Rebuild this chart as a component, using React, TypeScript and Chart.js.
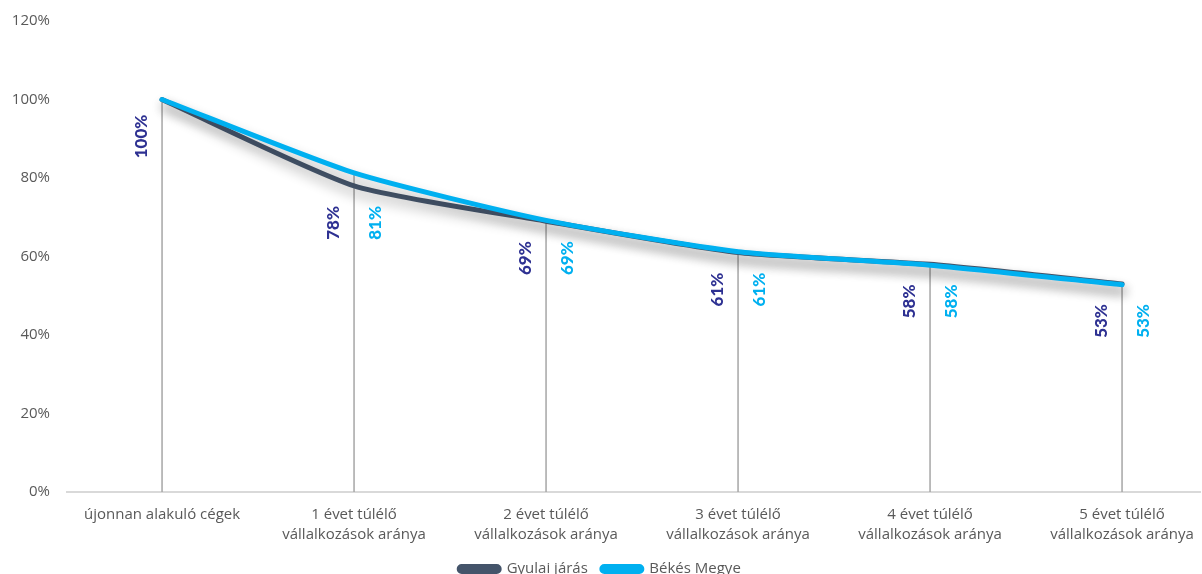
import React, { useEffect, useRef } from "react";
import { Chart, registerables } from "chart.js";

Chart.register(...registerables);

const categories: string[][] = [
  ["újonnan alakuló cégek"],
  ["1 évet túlélő", "vállalkozások aránya"],
  ["2 évet túlélő", "vállalkozások aránya"],
  ["3 évet túlélő", "vállalkozások aránya"],
  ["4 évet túlélő", "vállalkozások aránya"],
  ["5 évet túlélő", "vállalkozások aránya"],
];
const gyulai: number[] = [1.0, 0.78, 0.69, 0.61, 0.58, 0.53];
const bekes: number[] = [1.0, 0.813, 0.692, 0.612, 0.578, 0.528];
const seriesNames: string[] = ["Gyulai járás", "Békés Megye"];
const yTicks: number[] = [0, 0.2, 0.4, 0.6, 0.8, 1.0, 1.2];

const GYULAI_COLOR = "#44546A";
const BEKES_COLOR = "#00B0F0";
const GYULAI_LABEL = "#2E3192";
const AXIS_TEXT = "#595959";

const overlay = {
  id: "overlay",
  beforeDatasetsDraw(chart: any) {
    const { ctx, scales } = chart;
    const x = scales.x;
    const y = scales.y;
    ctx.save();
    ctx.strokeStyle = "#A6A6A6";
    ctx.lineWidth = 1.5;
    categories.forEach((_, i) => {
      const top = Math.max(gyulai[i], bekes[i]);
      const px = x.getPixelForValue(i);
      ctx.beginPath();
      ctx.moveTo(px, y.getPixelForValue(top));
      ctx.lineTo(px, y.getPixelForValue(0));
      ctx.stroke();
    });
    ctx.restore();
    ctx.save();
    ctx.shadowColor = "rgba(0,0,0,0.3)";
    ctx.shadowBlur = 12;
    ctx.shadowOffsetX = 2;
    ctx.shadowOffsetY = 7;
  },
  afterDatasetsDraw(chart: any) {
    const { ctx, scales } = chart;
    ctx.restore();
    const x = scales.x;
    const y = scales.y;
    ctx.save();
    ctx.font = '900 17px "Lato"';
    ctx.textAlign = "center";
    ctx.textBaseline = "middle";
    categories.forEach((_, i) => {
      const px = x.getPixelForValue(i);
      const py = y.getPixelForValue(gyulai[i]) + 37;
      const draw = (text: string, cx: number, color: string) => {
        ctx.save();
        ctx.translate(cx, py);
        ctx.rotate(-Math.PI / 2);
        ctx.fillStyle = color;
        ctx.fillText(text, 0, 0);
        ctx.restore();
      };
      draw(Math.round(gyulai[i] * 100) + "%", px - 21, GYULAI_LABEL);
      if (i > 0) draw(Math.round(bekes[i] * 100) + "%", px + 21, BEKES_COLOR);
    });
    ctx.restore();
  },
};

export default function App() {
  const ref = useRef<HTMLCanvasElement | null>(null);
  useEffect(() => {
    document.body.style.margin = "0";
    if (!ref.current) return;
    const chart = new Chart(ref.current, {
      type: "line",
      data: {
        datasets: [
          {
            label: seriesNames[0],
            data: gyulai.map((v, i) => ({ x: i, y: v })),
            borderColor: GYULAI_COLOR,
            backgroundColor: GYULAI_COLOR,
            borderWidth: 5,
            pointRadius: 0,
            tension: 0.2,
            borderCapStyle: "round",
            borderJoinStyle: "round",
            order: 2,
          },
          {
            label: seriesNames[1],
            data: bekes.map((v, i) => ({ x: i, y: v })),
            borderColor: BEKES_COLOR,
            backgroundColor: BEKES_COLOR,
            borderWidth: 5,
            pointRadius: 0,
            tension: 0.2,
            borderCapStyle: "round",
            borderJoinStyle: "round",
            order: 1,
          },
        ],
      },
      options: {
        responsive: false,
        animation: false,
        layout: { padding: { top: 21, right: 2, left: 0, bottom: -12.5 } },
        plugins: {
          tooltip: { enabled: false },
          legend: {
            position: "bottom",
            labels: {
              boxWidth: 40,
              boxHeight: 5,
              useBorderRadius: true,
              borderRadius: 2.5,
              color: AXIS_TEXT,
              font: { family: '"Open Sans"', size: 15 },
              padding: 14,
              sort: (a: any, b: any) => a.datasetIndex - b.datasetIndex,
            },
          },
        },
        scales: {
          x: {
            type: "linear",
            min: -0.495,
            max: 5.406,
            grid: { display: false, drawTicks: false },
            border: { display: true, color: "#D9D9D9", width: 2 },
            afterBuildTicks: (axis: any) => {
              axis.ticks = categories.map((_, i) => ({ value: i }));
            },
            afterFit: (axis: any) => {
              axis.height = 55.5;
              axis.paddingLeft = 0;
              axis.paddingRight = 0;
            },
            ticks: {
              autoSkip: false,
              maxRotation: 0,
              minRotation: 0,
              padding: 13,
              color: AXIS_TEXT,
              font: { family: '"Open Sans"', size: 15, lineHeight: 1.3 },
              callback: (v: any) => categories[v] ?? "",
            },
          },
          y: {
            min: 0,
            max: 1.2,
            grid: { display: false, drawTicks: false },
            border: { display: false },
            afterBuildTicks: (axis: any) => {
              axis.ticks = yTicks.map((v) => ({ value: v }));
            },
            afterFit: (axis: any) => {
              axis.width = 67;
              axis.paddingTop = 0;
              axis.paddingBottom = 0;
            },
            ticks: {
              padding: 17,
              color: AXIS_TEXT,
              font: { family: '"Open Sans"', size: 15 },
              callback: (v: any) => Math.round(Number(v) * 100) + "%",
            },
          },
        },
      },
      plugins: [overlay],
    });
    return () => chart.destroy();
  }, []);
  return <canvas ref={ref} width={1202} height={574} />;
}
